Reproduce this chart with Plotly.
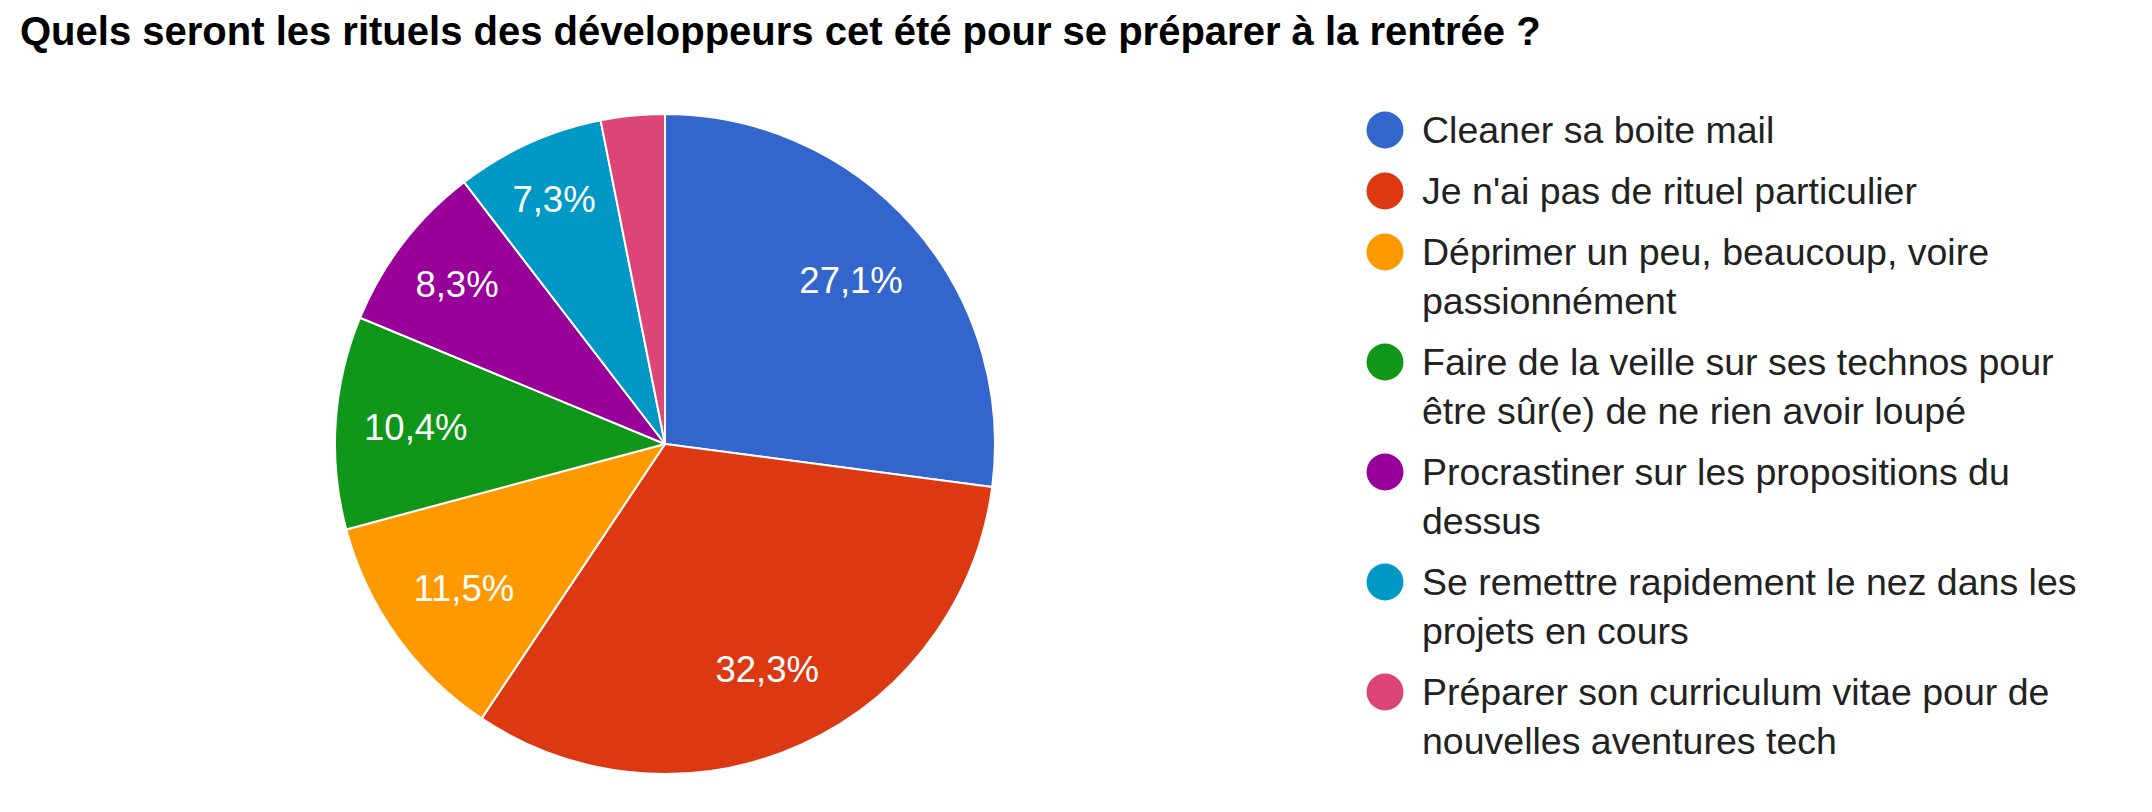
import textwrap
import plotly.graph_objects as go

# survey answers, in the order the chart draws them (clockwise from 12 o'clock)
categories = [
    "Cleaner sa boite mail",
    "Je n'ai pas de rituel particulier",
    "Déprimer un peu, beaucoup, voire passionnément",
    "Faire de la veille sur ses technos pour être sûr(e) de ne rien avoir loupé",
    "Procrastiner sur les propositions du dessus",
    "Se remettre rapidement le nez dans les projets en cours",
    "Préparer son curriculum vitae pour de nouvelles aventures tech",
]
responses = [26, 31, 11, 10, 8, 7, 3]
colors = ["#3366cc", "#dc3912", "#ff9900", "#109618", "#990099", "#0099c6", "#dd4477"]
title = "Quels seront les rituels des développeurs cet été pour se préparer à la rentrée ?"

# the page puts an 8px body margin round the plot, so positions below are
# given in page pixels and shifted back by it
PAGE_W, PAGE_H = 2152, 812
OFF = 8
W, H = PAGE_W - OFF, PAGE_H - OFF
font = "Arial, Liberation Sans, sans-serif"


def px(x):
    return (x - OFF) / W


def py(y):
    return 1 - (y - OFF) / H


total = sum(responses)
# google hides the label of small slices
texts = ["%{percent:.1%}" if v / total >= 0.05 else "" for v in responses]

# pie placement (page pixels)
cx, cy, r = 665, 444, 330
domain = dict(x=[px(cx - r), px(cx + r)], y=[py(cy + r), py(cy - r)])

fig = go.Figure()
fig.add_trace(go.Pie(
    labels=categories, values=responses, sort=False, direction="clockwise",
    rotation=0, textinfo="none",
    marker=dict(colors=colors, line=dict(color="white", width=2)),
    domain=domain, showlegend=False, hoverinfo="label+percent",
))
# labels sit further out than plotly puts them on a full pie, so they are
# carried by a see-through ring drawn on top of it
fig.add_trace(go.Pie(
    labels=categories, values=responses, sort=False, direction="clockwise",
    rotation=0, hole=0.5, texttemplate=texts, textposition="inside",
    insidetextorientation="horizontal",
    textfont=dict(family=font, size=36.5, color="white"),
    marker=dict(colors=["rgba(0,0,0,0)"] * len(responses), line=dict(width=0)),
    domain=domain, showlegend=False, hoverinfo="skip",
))

# legend on the right drawn by hand: round markers, wrapped labels
mark_x, text_x = 1385, 1420
y = 130
line_step, item_gap = 49, 12
annotations = []
shapes = []
for cat, col in zip(categories, colors):
    lines = textwrap.wrap(cat, width=39)
    shapes.append(dict(type="circle", xref="paper", yref="paper",
                       xsizemode="pixel", ysizemode="pixel",
                       xanchor=px(mark_x), yanchor=py(y),
                       x0=-18.5, x1=18.5, y0=-18.5, y1=18.5,
                       fillcolor=col, line=dict(width=0)))
    for ln in lines:
        annotations.append(dict(text=ln, x=px(text_x), y=py(y), xref="paper", yref="paper",
                                xanchor="left", yanchor="middle", showarrow=False,
                                font=dict(family=font, size=37.5, color="#222222")))
        y += line_step
    y += item_gap

fig.update_layout(
    width=W, height=H,
    margin=dict(l=0, r=0, t=0, b=0),
    paper_bgcolor="white", plot_bgcolor="white",
    separators=",.",
    title=dict(text="<b>" + title + "</b>", x=px(20), xanchor="left", xref="paper",
               y=py(31), yanchor="middle", yref="paper",
               font=dict(family=font, size=40, color="black")),
    annotations=annotations, shapes=shapes,
)

fig.write_html("out.html")
